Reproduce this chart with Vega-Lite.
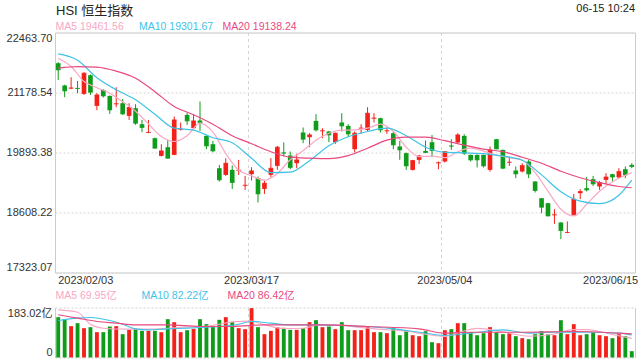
{
  "$schema": "https://vega.github.io/schema/vega-lite/v6.json",
  "background": "white",
  "padding": {"left": 5, "top": 1.5, "right": 6, "bottom": 5},
  "config": {
    "font": "Liberation Sans, Noto Sans CJK SC, sans-serif",
    "view": {"stroke": null},
    "axis": {"labelFont": "Liberation Sans, Noto Sans CJK SC, sans-serif", "labelFontSize": 11, "labelColor": "#333333"},
    "legend": {"labelFont": "Liberation Sans, Noto Sans CJK SC, sans-serif", "titleFont": "Liberation Sans, Noto Sans CJK SC, sans-serif"}
  },
  "datasets": {
    "k": [
      {"d":"2023/02/03","o":21806.1,"h":21827.5,"l":21448.4,"c":21662.6,"v":147.6},
      {"d":"2023/02/06","o":21328.5,"h":21345.6,"l":21077.9,"c":21212.8,"v":139},
      {"d":"2023/02/07","o":21264.2,"h":21506.2,"l":21249.2,"c":21277.1,"v":114.7},
      {"d":"2023/02/08","o":21277.1,"h":21427.0,"l":21163.5,"c":21264.2,"v":125.7},
      {"d":"2023/02/09","o":21148.5,"h":21613.3,"l":21127.1,"c":21591.9,"v":107.4},
      {"d":"2023/02/10","o":21549.1,"h":21564.1,"l":21127.1,"c":21184.9,"v":111},
      {"d":"2023/02/13","o":20891.5,"h":21163.5,"l":20799.4,"c":21127.1,"v":92.7},
      {"d":"2023/02/14","o":21234.2,"h":21249.2,"l":21071.4,"c":21105.7,"v":92.7},
      {"d":"2023/02/15","o":21105.7,"h":21114.2,"l":20720.1,"c":20805.8,"v":113.5},
      {"d":"2023/02/16","o":20927.9,"h":21292.0,"l":20863.7,"c":20938.6,"v":114.7},
      {"d":"2023/02/17","o":20949.3,"h":21041.4,"l":20698.7,"c":20720.1,"v":85.4},
      {"d":"2023/02/20","o":20677.3,"h":20949.3,"l":20591.6,"c":20857.2,"v":101.3},
      {"d":"2023/02/21","o":20842.2,"h":20927.9,"l":20484.5,"c":20520.9,"v":105},
      {"d":"2023/02/22","o":20499.5,"h":20591.6,"l":20328.2,"c":20428.8,"v":97.6},
      {"d":"2023/02/23","o":20313.2,"h":20591.6,"l":20306.8,"c":20323.9,"v":97.6},
      {"d":"2023/02/24","o":20199.7,"h":20214.7,"l":19979.0,"c":19985.5,"v":97.6},
      {"d":"2023/02/27","o":19820.5,"h":20071.1,"l":19807.7,"c":19927.6,"v":92.7},
      {"d":"2023/02/28","o":20006.9,"h":20163.2,"l":19764.9,"c":19771.3,"v":140.3},
      {"d":"2023/03/01","o":19842.0,"h":20664.5,"l":19835.5,"c":20591.6,"v":129.3},
      {"d":"2023/03/02","o":20386.0,"h":20535.9,"l":20364.6,"c":20396.7,"v":92.7},
      {"d":"2023/03/03","o":20698.7,"h":20735.1,"l":20484.5,"c":20570.2,"v":100},
      {"d":"2023/03/06","o":20413.9,"h":20698.7,"l":20392.4,"c":20570.2,"v":105},
      {"d":"2023/03/07","o":20578.8,"h":20985.7,"l":20356.0,"c":20535.9,"v":140.3},
      {"d":"2023/03/08","o":20248.9,"h":20257.5,"l":19964.0,"c":20034.7,"v":122},
      {"d":"2023/03/09","o":20071.1,"h":20141.8,"l":19899.8,"c":19927.6,"v":115.9},
      {"d":"2023/03/10","o":19557.1,"h":19627.8,"l":19272.2,"c":19306.5,"v":137.9},
      {"d":"2023/03/13","o":19413.6,"h":19771.3,"l":19392.1,"c":19664.2,"v":147.6},
      {"d":"2023/03/14","o":19520.7,"h":19614.9,"l":19113.7,"c":19250.8,"v":129.3},
      {"d":"2023/03/15","o":19503.5,"h":19734.9,"l":19413.6,"c":19514.2,"v":107.4},
      {"d":"2023/03/16","o":19182.2,"h":19392.1,"l":19092.3,"c":19193.0,"v":103.7},
      {"d":"2023/03/17","o":19428.6,"h":19578.5,"l":19293.6,"c":19499.2,"v":180.6},
      {"d":"2023/03/20","o":19342.9,"h":19379.3,"l":18822.4,"c":19006.6,"v":111},
      {"d":"2023/03/21","o":19113.7,"h":19285.1,"l":19006.6,"c":19235.8,"v":85.4},
      {"d":"2023/03/22","o":19413.6,"h":19771.3,"l":19368.6,"c":19557.1,"v":97.6},
      {"d":"2023/03/23","o":19606.4,"h":20034.7,"l":19520.7,"c":20006.9,"v":111},
      {"d":"2023/03/24","o":19893.4,"h":20107.6,"l":19807.7,"c":19878.4,"v":108.6},
      {"d":"2023/03/27","o":19829.1,"h":19914.8,"l":19535.7,"c":19572.1,"v":101.3},
      {"d":"2023/03/28","o":19664.2,"h":19863.4,"l":19557.1,"c":19734.9,"v":101.3},
      {"d":"2023/03/29","o":20321.7,"h":20428.8,"l":20092.6,"c":20178.2,"v":107.4},
      {"d":"2023/03/30","o":20221.1,"h":20306.8,"l":20006.9,"c":20270.4,"v":129.3},
      {"d":"2023/03/31","o":20570.2,"h":20713.7,"l":20343.2,"c":20377.4,"v":136.6},
      {"d":"2023/04/03","o":20349.6,"h":20413.9,"l":20199.7,"c":20360.3,"v":111},
      {"d":"2023/04/04","o":20343.2,"h":20356.0,"l":20114.0,"c":20270.4,"v":113.5},
      {"d":"2023/04/06","o":20114.0,"h":20321.7,"l":20077.6,"c":20306.8,"v":103.7},
      {"d":"2023/04/11","o":20535.9,"h":20735.1,"l":20343.2,"c":20463.1,"v":129.3},
      {"d":"2023/04/12","o":20463.1,"h":20499.5,"l":20221.1,"c":20291.8,"v":100},
      {"d":"2023/04/13","o":19964.0,"h":20343.2,"l":19893.4,"c":20306.8,"v":100},
      {"d":"2023/04/14","o":20407.4,"h":20499.5,"l":20291.8,"c":20418.1,"v":100},
      {"d":"2023/04/17","o":20377.4,"h":20863.7,"l":20343.2,"c":20735.1,"v":113.5},
      {"d":"2023/04/18","o":20621.6,"h":20735.1,"l":20535.9,"c":20632.3,"v":92.7},
      {"d":"2023/04/19","o":20628.0,"h":20638.8,"l":20321.7,"c":20377.4,"v":92.7},
      {"d":"2023/04/20","o":20349.6,"h":20428.8,"l":20291.8,"c":20360.3,"v":89},
      {"d":"2023/04/21","o":20306.8,"h":20343.2,"l":19964.0,"c":20056.1,"v":107.4},
      {"d":"2023/04/24","o":20021.9,"h":20141.8,"l":19734.9,"c":19949.0,"v":81.6},
      {"d":"2023/04/25","o":19878.4,"h":19893.4,"l":19520.7,"c":19606.4,"v":96.4},
      {"d":"2023/04/26","o":19520.7,"h":19734.9,"l":19507.8,"c":19722.0,"v":81.6},
      {"d":"2023/04/27","o":19734.9,"h":19842.0,"l":19649.2,"c":19820.5,"v":78},
      {"d":"2023/04/28","o":19927.6,"h":20150.4,"l":19878.4,"c":19893.4,"v":96.4},
      {"d":"2023/05/02","o":20114.0,"h":20270.4,"l":19792.7,"c":19936.2,"v":56},
      {"d":"2023/05/03","o":19664.2,"h":19700.6,"l":19535.7,"c":19674.9,"v":52.3},
      {"d":"2023/05/04","o":19700.6,"h":19921.2,"l":19679.2,"c":19914.8,"v":100},
      {"d":"2023/05/05","o":20039.0,"h":20178.2,"l":19949.0,"c":20028.3,"v":103.7},
      {"d":"2023/05/08","o":20107.6,"h":20306.8,"l":20096.9,"c":20270.4,"v":125.7},
      {"d":"2023/05/09","o":20248.9,"h":20285.4,"l":19842.0,"c":19878.4,"v":125.7},
      {"d":"2023/05/10","o":19842.0,"h":19850.6,"l":19700.6,"c":19734.9,"v":92.7},
      {"d":"2023/05/11","o":19842.0,"h":19850.6,"l":19572.1,"c":19734.9,"v":81.6},
      {"d":"2023/05/12","o":19842.0,"h":19850.6,"l":19572.1,"c":19606.4,"v":89},
      {"d":"2023/05/15","o":19520.7,"h":20021.9,"l":19486.4,"c":19949.0,"v":111},
      {"d":"2023/05/16","o":20178.2,"h":20184.7,"l":19964.0,"c":19970.5,"v":92.7},
      {"d":"2023/05/17","o":19949.0,"h":19957.6,"l":19535.7,"c":19557.1,"v":85.4},
      {"d":"2023/05/18","o":19674.9,"h":19807.7,"l":19606.4,"c":19685.6,"v":89},
      {"d":"2023/05/19","o":19507.8,"h":19593.5,"l":19342.9,"c":19435.0,"v":78},
      {"d":"2023/05/22","o":19486.4,"h":19664.2,"l":19465.0,"c":19614.9,"v":70.8},
      {"d":"2023/05/23","o":19700.6,"h":19734.9,"l":19342.9,"c":19435.0,"v":67},
      {"d":"2023/05/24","o":19272.2,"h":19278.6,"l":19036.6,"c":19079.4,"v":85.4},
      {"d":"2023/05/25","o":18914.5,"h":18920.9,"l":18593.2,"c":18721.7,"v":96.4},
      {"d":"2023/05/29","o":18807.4,"h":18813.8,"l":18522.5,"c":18535.4,"v":85.4},
      {"d":"2023/05/30","o":18550.4,"h":18678.9,"l":18364.0,"c":18561.1,"v":81.6},
      {"d":"2023/05/31","o":18394.0,"h":18400.4,"l":18036.3,"c":18222.6,"v":136.6},
      {"d":"2023/06/01","o":18171.4,"h":18415.4,"l":18164.8,"c":18179.9,"v":85.4},
      {"d":"2023/06/02","o":18556.8,"h":19006.6,"l":18535.4,"c":18893.1,"v":122},
      {"d":"2023/06/05","o":19021.6,"h":19107.3,"l":18893.1,"c":19058.0,"v":81.6},
      {"d":"2023/06/06","o":19128.7,"h":19368.6,"l":19058.0,"c":19092.3,"v":85.4},
      {"d":"2023/06/07","o":19321.5,"h":19392.1,"l":19177.9,"c":19220.8,"v":92.7},
      {"d":"2023/06/08","o":19165.1,"h":19285.1,"l":19092.3,"c":19250.8,"v":81.6},
      {"d":"2023/06/09","o":19306.5,"h":19450.0,"l":19220.8,"c":19368.6,"v":78},
      {"d":"2023/06/12","o":19428.6,"h":19435.0,"l":19278.6,"c":19368.6,"v":70.8},
      {"d":"2023/06/13","o":19357.9,"h":19557.1,"l":19342.9,"c":19486.4,"v":85.4},
      {"d":"2023/06/14","o":19535.7,"h":19593.5,"l":19342.9,"c":19413.6,"v":78},
      {"d":"2023/06/15","o":19627.8,"h":19664.2,"l":19557.1,"c":19593.5,"v":23.2}
    ],
    "ma": [
      {"d":"2023/02/03","s":"MA5","m":21913.2},{"d":"2023/02/07","s":"MA5","m":21735.4},{"d":"2023/02/09","s":"MA5","m":21414.1},
      {"d":"2023/02/13","s":"MA5","m":21281.3},{"d":"2023/02/15","s":"MA5","m":21163.5},{"d":"2023/02/17","s":"MA5","m":20981.5},
      {"d":"2023/02/21","s":"MA5","m":20778.0},{"d":"2023/02/23","s":"MA5","m":20506.0},{"d":"2023/02/27","s":"MA5","m":20236.1},
      {"d":"2023/03/01","s":"MA5","m":20129.0},{"d":"2023/03/03","s":"MA5","m":20253.2},{"d":"2023/03/07","s":"MA5","m":20520.9},
      {"d":"2023/03/09","s":"MA5","m":20328.2},{"d":"2023/03/13","s":"MA5","m":19871.9},{"d":"2023/03/15","s":"MA5","m":19514.2},
      {"d":"2023/03/17","s":"MA5","m":19396.4},{"d":"2023/03/21","s":"MA5","m":19300.0},{"d":"2023/03/23","s":"MA5","m":19443.6},
      {"d":"2023/03/27","s":"MA5","m":19739.1},{"d":"2023/03/29","s":"MA5","m":19931.9},{"d":"2023/03/31","s":"MA5","m":20156.8},
      {"d":"2023/04/04","s":"MA5","m":20306.8},{"d":"2023/04/11","s":"MA5","m":20371.0},{"d":"2023/04/13","s":"MA5","m":20377.4},
      {"d":"2023/04/17","s":"MA5","m":20413.9},{"d":"2023/04/19","s":"MA5","m":20499.5},{"d":"2023/04/21","s":"MA5","m":20343.2},
      {"d":"2023/04/25","s":"MA5","m":20006.9},{"d":"2023/04/27","s":"MA5","m":19803.4},{"d":"2023/05/02","s":"MA5","m":19814.1},
      {"d":"2023/05/04","s":"MA5","m":19782.0},{"d":"2023/05/08","s":"MA5","m":19910.5},{"d":"2023/05/10","s":"MA5","m":19985.5},
      {"d":"2023/05/12","s":"MA5","m":19921.2},{"d":"2023/05/16","s":"MA5","m":19835.5},{"d":"2023/05/18","s":"MA5","m":19782.0},
      {"d":"2023/05/22","s":"MA5","m":19728.4},{"d":"2023/05/24","s":"MA5","m":19460.7},{"d":"2023/05/29","s":"MA5","m":19064.4},
      {"d":"2023/05/31","s":"MA5","m":18678.9},{"d":"2023/06/02","s":"MA5","m":18535.4},{"d":"2023/06/06","s":"MA5","m":18786.0},
      {"d":"2023/06/08","s":"MA5","m":19064.4},{"d":"2023/06/12","s":"MA5","m":19267.9},{"d":"2023/06/14","s":"MA5","m":19407.1},
      {"d":"2023/06/15","s":"MA5","m":19461.56},
      {"d":"2023/02/03","s":"MA10","m":22005.3},{"d":"2023/02/08","s":"MA10","m":21870.4},{"d":"2023/02/13","s":"MA10","m":21495.5},
      {"d":"2023/02/16","s":"MA10","m":21238.5},{"d":"2023/02/21","s":"MA10","m":21024.3},{"d":"2023/02/24","s":"MA10","m":20713.7},
      {"d":"2023/03/01","s":"MA10","m":20413.9},{"d":"2023/03/06","s":"MA10","m":20371.0},{"d":"2023/03/09","s":"MA10","m":20210.4},
      {"d":"2023/03/14","s":"MA10","m":20103.3},{"d":"2023/03/17","s":"MA10","m":19771.3},{"d":"2023/03/22","s":"MA10","m":19460.7},
      {"d":"2023/03/27","s":"MA10","m":19471.4},{"d":"2023/03/30","s":"MA10","m":19717.7},{"d":"2023/04/04","s":"MA10","m":20039.0},
      {"d":"2023/04/12","s":"MA10","m":20231.8},{"d":"2023/04/17","s":"MA10","m":20343.2},{"d":"2023/04/20","s":"MA10","m":20413.9},
      {"d":"2023/04/25","s":"MA10","m":20253.2},{"d":"2023/04/28","s":"MA10","m":20006.9},{"d":"2023/05/04","s":"MA10","m":19899.8},
      {"d":"2023/05/09","s":"MA10","m":19884.8},{"d":"2023/05/12","s":"MA10","m":19867.7},{"d":"2023/05/17","s":"MA10","m":19814.1},
      {"d":"2023/05/22","s":"MA10","m":19728.4},{"d":"2023/05/25","s":"MA10","m":19413.6},{"d":"2023/05/31","s":"MA10","m":19053.7},
      {"d":"2023/06/05","s":"MA10","m":18850.2},{"d":"2023/06/08","s":"MA10","m":18796.7},{"d":"2023/06/13","s":"MA10","m":18978.8},
      {"d":"2023/06/15","s":"MA10","m":19301.67},
      {"d":"2023/02/03","s":"MA20","m":21699.0},{"d":"2023/02/08","s":"MA20","m":21731.1},{"d":"2023/02/13","s":"MA20","m":21720.4},
      {"d":"2023/02/16","s":"MA20","m":21634.8},{"d":"2023/02/21","s":"MA20","m":21484.8},{"d":"2023/02/24","s":"MA20","m":21195.7},
      {"d":"2023/03/01","s":"MA20","m":20878.6},{"d":"2023/03/06","s":"MA20","m":20703.0},{"d":"2023/03/09","s":"MA20","m":20499.5},
      {"d":"2023/03/14","s":"MA20","m":20253.2},{"d":"2023/03/17","s":"MA20","m":20081.9},{"d":"2023/03/22","s":"MA20","m":19910.5},
      {"d":"2023/03/27","s":"MA20","m":19792.7},{"d":"2023/03/30","s":"MA20","m":19771.3},{"d":"2023/04/04","s":"MA20","m":19760.6},
      {"d":"2023/04/12","s":"MA20","m":19824.8},{"d":"2023/04/17","s":"MA20","m":19985.5},{"d":"2023/04/20","s":"MA20","m":20156.8},
      {"d":"2023/04/25","s":"MA20","m":20221.1},{"d":"2023/04/28","s":"MA20","m":20221.1},{"d":"2023/05/04","s":"MA20","m":20146.1},
      {"d":"2023/05/09","s":"MA20","m":20049.7},{"d":"2023/05/12","s":"MA20","m":19964.0},{"d":"2023/05/17","s":"MA20","m":19910.5},
      {"d":"2023/05/22","s":"MA20","m":19792.7},{"d":"2023/05/25","s":"MA20","m":19664.2},{"d":"2023/05/31","s":"MA20","m":19492.8},
      {"d":"2023/06/05","s":"MA20","m":19353.6},{"d":"2023/06/08","s":"MA20","m":19246.5},{"d":"2023/06/13","s":"MA20","m":19165.1},
      {"d":"2023/06/15","s":"MA20","m":19138.24}
    ],
    "vma": [
      {"d":"2023/02/03","s":"MA5","m":174.5},{"d":"2023/02/08","s":"MA5","m":165.9},{"d":"2023/02/10","s":"MA5","m":122},
      {"d":"2023/02/14","s":"MA5","m":107},{"d":"2023/02/16","s":"MA5","m":104.3},{"d":"2023/02/20","s":"MA5","m":104},
      {"d":"2023/02/22","s":"MA5","m":104},{"d":"2023/02/24","s":"MA5","m":104},{"d":"2023/02/28","s":"MA5","m":107},
      {"d":"2023/03/03","s":"MA5","m":111.5},{"d":"2023/03/07","s":"MA5","m":112},{"d":"2023/03/10","s":"MA5","m":122},
      {"d":"2023/03/14","s":"MA5","m":130.5},{"d":"2023/03/17","s":"MA5","m":133},{"d":"2023/03/21","s":"MA5","m":120},
      {"d":"2023/03/24","s":"MA5","m":106},{"d":"2023/03/29","s":"MA5","m":107},{"d":"2023/03/31","s":"MA5","m":117},
      {"d":"2023/04/06","s":"MA5","m":120},{"d":"2023/04/13","s":"MA5","m":112},{"d":"2023/04/19","s":"MA5","m":103},
      {"d":"2023/04/25","s":"MA5","m":96},{"d":"2023/04/28","s":"MA5","m":85},{"d":"2023/05/04","s":"MA5","m":76.7},
      {"d":"2023/05/08","s":"MA5","m":90},{"d":"2023/05/11","s":"MA5","m":106.5},{"d":"2023/05/17","s":"MA5","m":94},
      {"d":"2023/05/23","s":"MA5","m":78},{"d":"2023/05/30","s":"MA5","m":86},{"d":"2023/06/02","s":"MA5","m":102},
      {"d":"2023/06/06","s":"MA5","m":102},{"d":"2023/06/12","s":"MA5","m":84},{"d":"2023/06/15","s":"MA5","m":69.95},
      {"d":"2023/02/03","s":"MA10","m":135.4},{"d":"2023/02/08","s":"MA10","m":144},{"d":"2023/02/10","s":"MA10","m":146.4},
      {"d":"2023/02/15","s":"MA10","m":135.4},{"d":"2023/02/17","s":"MA10","m":122},{"d":"2023/02/21","s":"MA10","m":104.9},
      {"d":"2023/02/23","s":"MA10","m":101.3},{"d":"2023/02/28","s":"MA10","m":104.9},{"d":"2023/03/03","s":"MA10","m":107.4},
      {"d":"2023/03/07","s":"MA10","m":109.8},{"d":"2023/03/10","s":"MA10","m":113.5},{"d":"2023/03/15","s":"MA10","m":122},
      {"d":"2023/03/17","s":"MA10","m":131.8},{"d":"2023/03/22","s":"MA10","m":125.7},{"d":"2023/03/27","s":"MA10","m":119.6},
      {"d":"2023/03/31","s":"MA10","m":119.6},{"d":"2023/04/11","s":"MA10","m":117.1},{"d":"2023/04/17","s":"MA10","m":113.5},
      {"d":"2023/04/21","s":"MA10","m":104.9},{"d":"2023/04/27","s":"MA10","m":92.7},{"d":"2023/05/04","s":"MA10","m":80.5},
      {"d":"2023/05/10","s":"MA10","m":89.1},{"d":"2023/05/17","s":"MA10","m":101.3},{"d":"2023/05/23","s":"MA10","m":89.1},
      {"d":"2023/05/30","s":"MA10","m":92.7},{"d":"2023/06/06","s":"MA10","m":92.7},{"d":"2023/06/13","s":"MA10","m":89.1},
      {"d":"2023/06/15","s":"MA10","m":82.22},
      {"d":"2023/02/03","s":"MA20","m":156.2},{"d":"2023/02/08","s":"MA20","m":144},{"d":"2023/02/13","s":"MA20","m":131.8},
      {"d":"2023/02/16","s":"MA20","m":125.7},{"d":"2023/02/21","s":"MA20","m":119.6},{"d":"2023/02/28","s":"MA20","m":119.6},
      {"d":"2023/03/07","s":"MA20","m":113.5},{"d":"2023/03/14","s":"MA20","m":113.5},{"d":"2023/03/21","s":"MA20","m":119.6},
      {"d":"2023/03/28","s":"MA20","m":119.6},{"d":"2023/04/03","s":"MA20","m":119.6},{"d":"2023/04/17","s":"MA20","m":113.5},
      {"d":"2023/04/27","s":"MA20","m":104.9},{"d":"2023/05/04","s":"MA20","m":89.1},{"d":"2023/05/10","s":"MA20","m":92.7},
      {"d":"2023/05/22","s":"MA20","m":92.7},{"d":"2023/06/02","s":"MA20","m":95.2},{"d":"2023/06/13","s":"MA20","m":89.1},
      {"d":"2023/06/15","s":"MA20","m":86.42}
    ]
  },
  "bounds": "flush",
  "spacing": 35,
  "resolve": {"scale": {"stroke": "independent"}, "legend": {"stroke": "independent"}},
  "vconcat": [
    {
      "width": 580,
      "height": 240,
      "view": {"stroke": "#cccccc"},
      "title": {"text": "06-15 10:24", "anchor": "end", "frame": "group", "fontSize": 11, "fontWeight": "normal", "color": "#222222", "offset": -9},
      "layer": [
        {
          "data": {"name": "k"},
          "mark": {"type": "rule", "strokeWidth": 1},
          "encoding": {
            "x": {"field": "d", "type": "ordinal", "title": null, "scale": {"type": "band", "paddingInner": 0, "paddingOuter": 0},
              "axis": {"values": ["2023/02/03", "2023/03/17", "2023/05/04", "2023/06/15"], "title": null, "labelAngle": 0, "ticks": false, "domain": false, "bandPosition": 0, "labelPadding": 2, "labelOverlap": false,
                "labelAlign": {"condition": [{"test": "datum.value == '2023/02/03'", "value": "left"}, {"test": "datum.value == '2023/06/15'", "value": "right"}], "value": "center"},
                "labelOffset": {"condition": {"test": "datum.value == '2023/06/15'", "value": 6.4}, "value": 0},
                "grid": true, "gridDash": [3, 3], "gridColor": "#d4d4d4",
                "gridOpacity": {"condition": {"test": "datum.value == '2023/03/17' || datum.value == '2023/05/04'", "value": 1}, "value": 0}}},
            "y": {"field": "l", "type": "quantitative", "title": null, "scale": {"domain": [17323.07, 22463.7], "nice": false, "zero": false},
              "axis": {"orient": "left", "values": [17323.07, 18608.22, 19893.38, 21178.54, 22463.7], "format": ".2f", "title": null, "ticks": false, "domain": false, "labelFlush": true, "labelPadding": 3, "grid": true, "gridDash": [2, 2], "gridColor": "#d6d6d6"}},
            "y2": {"field": "h"},
            "color": {"condition": {"test": "datum.c > datum.o", "value": "#f2211a"}, "value": "#0e9c1a"}
          }
        },
        {
          "data": {"name": "k"},
          "mark": {"type": "bar", "width": {"band": 0.72}},
          "encoding": {
            "x": {"field": "d", "type": "ordinal", "title": null},
            "y": {"field": "o", "type": "quantitative", "title": null},
            "y2": {"field": "c"},
            "color": {"condition": {"test": "datum.c > datum.o", "value": "#f2211a"}, "value": "#0e9c1a"}
          }
        },
        {
          "data": {"name": "k"},
          "mark": {"type": "tick", "thickness": 1, "size": 4.6},
          "encoding": {
            "x": {"field": "d", "type": "ordinal", "title": null},
            "y": {"field": "c", "type": "quantitative", "title": null},
            "color": {"condition": {"test": "datum.c > datum.o", "value": "#f2211a"}, "value": "#0e9c1a"}
          }
        },
        {
          "data": {"name": "ma"},
          "mark": {"type": "line", "strokeWidth": 1.2, "interpolate": "monotone"},
          "encoding": {
            "x": {"field": "d", "type": "ordinal", "title": null},
            "y": {"field": "m", "type": "quantitative", "title": null},
            "stroke": {"field": "s", "type": "nominal",
              "scale": {"domain": ["MA5", "MA10", "MA20"], "range": ["#f9a8c5", "#3fc3e6", "#e9497f"]},
              "legend": {"orient": "none", "legendX": 1, "legendY": -28, "direction": "horizontal", "padding": 0,
                "title": "HSI 恒生指数", "titleFontSize": 13, "titleFontWeight": "normal", "titleColor": "#222222", "titlePadding": 4,
                "labelFontSize": 10.5, "labelOffset": -11, "symbolSize": 0, "symbolOpacity": 0, "symbolStrokeWidth": 0,
                "gridAlign": "all", "columnPadding": 8.5, "labelLimit": 200,
                "labelExpr": "datum.label == 'MA5' ? 'MA5 19461.56' : datum.label == 'MA10' ? 'MA10 19301.67' : 'MA20 19138.24'",
                "labelColor": {"expr": "datum.value == 'MA5' ? '#f9a8c5' : datum.value == 'MA10' ? '#3fc3e6' : '#e9497f'"}}}
          }
        }
      ]
    },
    {
      "width": 580,
      "height": 50,
      "layer": [
        {
          "data": {"name": "k"},
          "mark": {"type": "bar", "width": {"band": 0.6}},
          "encoding": {
            "x": {"field": "d", "type": "ordinal", "title": null, "scale": {"type": "band", "paddingInner": 0, "paddingOuter": 0},
              "axis": {"values": ["2023/03/17", "2023/05/04"], "labels": false, "ticks": false, "domain": false, "title": null, "bandPosition": 0, "grid": true, "gridDash": [3, 3], "gridColor": "#d4d4d4"}},
            "y": {"field": "v", "type": "quantitative", "title": null, "scale": {"domain": [0, 183.02], "nice": false},
              "axis": {"orient": "left", "values": [0, 183.02], "labelExpr": "datum.value == 0 ? '0' : format(datum.value, '.2f') + '亿'", "title": null, "ticks": false, "domain": true, "domainColor": "#cccccc", "labelFlush": true, "labelPadding": 3, "grid": true, "gridDash": [2, 2], "gridColor": "#d0d0d0"}},
            "color": {"condition": {"test": "datum.c > datum.o", "value": "#f2211a"}, "value": "#0e9c1a"}
          }
        },
        {
          "data": {"name": "vma"},
          "mark": {"type": "line", "strokeWidth": 1.1, "interpolate": "monotone"},
          "encoding": {
            "x": {"field": "d", "type": "ordinal", "title": null},
            "y": {"field": "m", "type": "quantitative", "title": null,
              "axis": {"orient": "right", "labels": false, "ticks": false, "grid": false, "domain": true, "domainColor": "#cccccc", "title": null}},
            "stroke": {"field": "s", "type": "nominal",
              "scale": {"domain": ["MA5", "MA10", "MA20"], "range": ["#f9a8c5", "#3fc3e6", "#e9497f"]},
              "legend": {"orient": "none", "legendX": -10, "legendY": -16.5, "direction": "horizontal", "padding": 0, "title": null,
                "labelFontSize": 10.5, "labelOffset": 0, "symbolSize": 0, "symbolOpacity": 0, "symbolStrokeWidth": 0,
                "gridAlign": "all", "columnPadding": 8, "labelLimit": 200,
                "labelExpr": "datum.label == 'MA5' ? 'MA5 69.95亿' : datum.label == 'MA10' ? 'MA10 82.22亿' : 'MA20 86.42亿'",
                "labelColor": {"expr": "datum.value == 'MA5' ? '#f9a8c5' : datum.value == 'MA10' ? '#3fc3e6' : '#e9497f'"}}}
          }
        }
      ]
    }
  ]
}
